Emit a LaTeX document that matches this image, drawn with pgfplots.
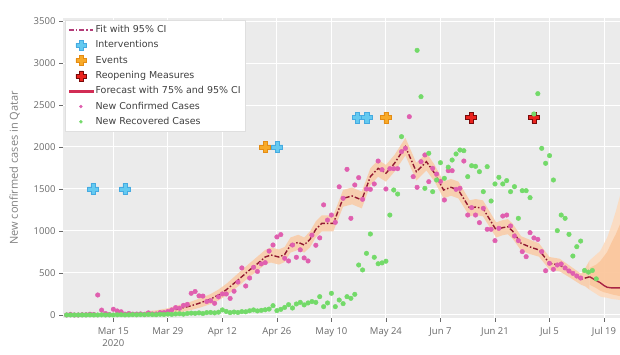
\documentclass[border=0pt]{standalone}
\usepackage{fontspec}
\setmainfont{Open Sans}
\newfontfamily\legfont{DejaVu Sans}
\usepackage{pgfplots}
\usepackage{pgfplotstable}
\pgfplotsset{compat=1.18}
\usepgfplotslibrary{fillbetween}

\definecolor{bg}{RGB}{235,235,235}
\definecolor{pinkdot}{RGB}{224,95,175}
\definecolor{greendot}{RGB}{115,218,105}
\definecolor{fitcol}{RGB}{145,25,50}
\definecolor{fitleg}{RGB}{180,60,120}
\definecolor{forecastred}{RGB}{210,45,85}
\definecolor{band}{RGB}{251,200,160}
\definecolor{bandA}{RGB}{253,218,188}
\definecolor{bandB}{RGB}{251,196,152}
\definecolor{ivfill}{RGB}{100,202,240}
\definecolor{ivdraw}{RGB}{70,170,225}
\definecolor{evfill}{RGB}{248,170,40}
\definecolor{evdraw}{RGB}{228,140,20}
\definecolor{rofill}{RGB}{235,35,30}
\definecolor{rodraw}{RGB}{120,10,10}
\definecolor{txt}{RGB}{105,105,105}

\pgfplotsset{
  legfitline/.style={legend image code/.code={\draw[color=fitleg, line width=1.4pt, dash pattern=on 5pt off 2pt on 1.5pt off 2pt] (0pt,0pt) -- (24pt,0pt);}},
  legfcline/.style={legend image code/.code={\fill[fill=forecastred] (0pt,-0.75pt) rectangle (24pt,0.75pt);}},
  legmark/.style={legend image code/.code={\draw[##1] plot coordinates {(12pt,0pt)};}},
}

\pgfdeclareplotmark{fatcross}{%
 \pgfpathmoveto{\pgfqpoint{-0.38\pgfplotmarksize}{\pgfplotmarksize}}%
 \pgfpathlineto{\pgfqpoint{0.38\pgfplotmarksize}{\pgfplotmarksize}}%
 \pgfpathlineto{\pgfqpoint{0.38\pgfplotmarksize}{0.38\pgfplotmarksize}}%
 \pgfpathlineto{\pgfqpoint{\pgfplotmarksize}{0.38\pgfplotmarksize}}%
 \pgfpathlineto{\pgfqpoint{\pgfplotmarksize}{-0.38\pgfplotmarksize}}%
 \pgfpathlineto{\pgfqpoint{0.38\pgfplotmarksize}{-0.38\pgfplotmarksize}}%
 \pgfpathlineto{\pgfqpoint{0.38\pgfplotmarksize}{-\pgfplotmarksize}}%
 \pgfpathlineto{\pgfqpoint{-0.38\pgfplotmarksize}{-\pgfplotmarksize}}%
 \pgfpathlineto{\pgfqpoint{-0.38\pgfplotmarksize}{-0.38\pgfplotmarksize}}%
 \pgfpathlineto{\pgfqpoint{-\pgfplotmarksize}{-0.38\pgfplotmarksize}}%
 \pgfpathlineto{\pgfqpoint{-\pgfplotmarksize}{0.38\pgfplotmarksize}}%
 \pgfpathlineto{\pgfqpoint{-0.38\pgfplotmarksize}{0.38\pgfplotmarksize}}%
 \pgfpathclose
 \pgfusepathqfillstroke}

% day 0 = Mar 15 2020
\pgfplotstableread{
x y
-13 0
-12 0
-11 7
-10 0
-9 0
-8 3
-7 3
-6 9
-5 6
-4 238
-3 58
-2 17
-1 5
0 68
1 48
2 38
3 10
4 18
5 10
6 11
7 13
8 7
9 25
10 12
11 12
12 28
13 28
14 41
15 60
16 88
17 80
18 114
19 126
20 258
21 279
22 228
23 225
24 160
25 170
26 139
27 216
28 250
29 250
30 197
31 283
32 392
33 560
34 345
35 440
36 567
37 518
38 608
39 623
40 761
41 833
42 929
43 957
44 675
45 643
46 833
47 687
48 776
49 679
50 643
51 951
52 830
53 918
54 1311
55 1130
56 1190
57 1103
58 1526
59 1389
60 1734
61 1151
62 1548
63 1635
64 1377
65 1500
66 1496
67 1560
68 1833
69 1730
70 1500
71 1742
72 1742
73 1742
74 1944
75 1984
76 2361
77 1647
78 1520
79 1825
80 1905
81 1587
82 1746
83 1678
84 1590
85 1369
86 1718
87 1718
88 1496
89 1508
90 1833
91 1190
92 1278
93 1190
94 1099
95 1270
96 1020
97 1020
98 885
99 1032
100 1178
101 1190
102 1060
103 940
104 885
105 754
106 694
107 980
108 917
109 900
110 754
111 527
112 615
113 544
114 595
115 607
116 560
117 524
118 496
119 464
120 440
}\conftab

\pgfplotstableread{
x y
-13 0
-12 0
-11 0
-10 0
-9 0
-8 0
-7 0
-6 1
-5 0
-4 0
-3 2
-2 0
-1 1
0 0
1 2
2 3
3 1
4 2
5 4
6 2
7 5
8 3
9 6
10 5
11 3
12 8
13 6
14 10
15 7
16 12
17 15
18 10
19 18
20 22
21 20
22 25
23 18
24 28
25 30
26 25
27 33
28 60
29 42
30 28
31 35
32 30
33 40
34 38
35 50
36 60
37 48
38 55
39 62
40 70
41 111
42 52
43 67
44 90
45 123
46 83
47 131
48 150
49 120
50 143
51 160
52 150
53 218
54 99
55 143
56 258
57 99
58 178
59 135
60 218
61 198
62 246
63 595
64 536
65 734
66 964
67 687
68 610
69 620
70 640
71 1190
72 1488
73 1440
74 2123
78 3151
79 2599
80 1508
81 1925
82 1468
83 1607
84 1813
85 1627
86 1760
87 1845
88 1917
89 1964
90 1956
91 1647
92 1777
93 1770
94 1706
95 1468
96 1766
97 1357
98 1560
99 1639
100 1560
101 1600
102 1468
103 1528
104 1151
105 1480
106 1480
107 1397
108 2393
109 2635
110 1984
111 1806
112 1897
113 1607
114 1004
115 1190
116 1151
117 960
118 702
119 813
120 880
121 530
122 510
123 530
124 430
}\rectab

\pgfplotstableread{
x fit lo hi
8 10 -15 40
11 20 -15 55
14 40 0 80
17 75 30 120
20 110 60 160
22 139 84 194
25 190 130 250
27 238 173 303
29 300 230 370
31 377 302 452
33 456 376 536
35 536 456 616
37 610 525 695
39 690 605 775
40.5 714 624 804
42.5 690 600 780
44 720 630 810
45.5 833 743 923
47.5 865 775 955
49 833 743 923
50.5 900 805 995
52 1020 925 1115
53.5 1091 996 1186
56.5 1091 996 1186
59 1389 1289 1489
61.3 1417 1317 1517
63.8 1369 1269 1469
66 1647 1547 1747
68 1746 1646 1846
70 1687 1587 1787
72.2 1806 1706 1906
75 2004 1899 2109
77.8 1706 1601 1811
80.4 1825 1720 1930
82.5 1687 1587 1787
84.8 1488 1388 1588
86.7 1520 1420 1620
88.6 1488 1388 1588
91.5 1270 1175 1365
93 1285 1190 1380
94.9 1270 1175 1365
98.3 1012 922 1102
100 1040 950 1130
101.3 1051 961 1141
102.5 1000 910 1090
104.7 853 768 938
106.8 813 728 898
109.3 774 694 854
112 615 540 690
114.6 595 520 670
117.2 516 446 586
120.1 425 360 490
121.2 440 340 560
122.3 455 300 650
}\fittab

\pgfplotstableread{
x fc lo95 hi95 lo75 hi75
122.3 455 300 650 360 560
124 410 250 720 320 600
125 385 220 760 290 640
126 350 210 850 270 700
126.8 330 205 920 262 750
128 322 190 1080 245 870
129 322 185 1230 235 960
130.1 322 178 1420 225 1080
}\fctab

\begin{document}
\begin{tikzpicture}
\begin{axis}[
  at={(63pt,37pt)}, anchor=south west,
  scale only axis, width=557pt, height=300pt,
  xmin=-12.92, xmax=130.1, ymin=-36, ymax=3536,
  axis background/.style={fill=bg},
  axis line style={draw=none},
  grid=major, major grid style={white, line width=1pt},
  xtick={0,14,...,126},
  xticklabels={{Mar 15\\2020},Mar 29,Apr 12,Apr 26,May 10,May 24,Jun 7,Jun 21,Jul 5,Jul 19},
  ytick={0,500,...,3500},
  tick pos=left, tick align=outside, major tick length=4pt,
  tick style={txt, line width=0.7pt},
  xticklabel style={align=center, font=\fontsize{9.5}{12}\selectfont, text=txt, yshift=-2pt},
  yticklabel style={font=\fontsize{9.5}{12}\selectfont, text=txt},
  /pgf/number format/1000 sep={}, /pgf/number format/assume math mode=true,
  ylabel={New confirmed cases in Qatar},
  ylabel style={at={(axis description cs:-0.087,0.5)}, anchor=center, font=\fontsize{11}{13}\selectfont, text=gray},
  legend cell align=left,
  legend style={at={(axis description cs:0,1)}, anchor=north west, xshift=2pt, yshift=-2pt,
    draw=gray!25, fill=white, font=\legfont\fontsize{9.5}{11}\selectfont, text=black!75,
    nodes={inner sep=2pt, text height=7.5pt, text depth=2.2pt}, row sep=1.6pt, inner sep=3pt},
]
\addlegendimage{legfitline}
\addlegendentry{Fit with 95\% CI}
\addlegendimage{only marks, mark=fatcross, mark size=5pt, fill=ivfill, draw=ivdraw, line width=0.6pt, legmark}
\addlegendentry{Interventions}
\addlegendimage{only marks, mark=fatcross, mark size=5pt, fill=evfill, draw=evdraw, line width=0.6pt, legmark}
\addlegendentry{Events}
\addlegendimage{only marks, mark=fatcross, mark size=5pt, fill=rofill, draw=rodraw, line width=0.6pt, legmark}
\addlegendentry{Reopening Measures}
\addlegendimage{forecastred, legfcline}
\addlegendentry{Forecast with 75\% and 95\% CI}
\addlegendimage{only marks, mark=*, mark size=1.5pt, pinkdot, legmark}
\addlegendentry{New Confirmed Cases}
\addlegendimage{only marks, mark=*, mark size=1.5pt, greendot, legmark}
\addlegendentry{New Recovered Cases}

% bands
\addplot[draw=none, name path=fhi, forget plot] table[x=x, y=hi] {\fittab};
\addplot[draw=none, name path=flo, forget plot] table[x=x, y=lo] {\fittab};
\addplot[fill=band, fill opacity=0.8, draw=none, forget plot] fill between[of=fhi and flo];
\addplot[draw=none, name path=ahi, forget plot] table[x=x, y=hi95] {\fctab};
\addplot[draw=none, name path=alo, forget plot] table[x=x, y=lo95] {\fctab};
\addplot[fill=bandA, fill opacity=0.85, draw=none, forget plot] fill between[of=ahi and alo];
\addplot[draw=none, name path=bhi, forget plot] table[x=x, y=hi75] {\fctab};
\addplot[draw=none, name path=blo, forget plot] table[x=x, y=lo75] {\fctab};
\addplot[fill=bandB, fill opacity=0.8, draw=none, forget plot] fill between[of=bhi and blo];

% confirmed
\addplot[only marks, mark=*, mark size=2.3pt, pinkdot, forget plot]
  table[x=x, y=y] {\conftab};
% fit and forecast lines
\addplot[fitcol, line width=1.4pt, dash pattern=on 5pt off 2pt on 1.5pt off 2pt, forget plot]
  table[x=x, y=fit] {\fittab};
\addplot[forecastred!80!black, line width=1.4pt, forget plot] table[x=x, y=fc] {\fctab};

% interventions, events, reopening
\addplot[only marks, mark=fatcross, mark size=5.5pt, mark options={fill=ivfill, draw=ivdraw, line width=0.6pt}, forget plot]
  coordinates {(-5.2,1500) (3,1500) (42.1,2000) (62.7,2350) (65.1,2350)};
\addplot[only marks, mark=fatcross, mark size=5.5pt, mark options={fill=evfill, draw=evdraw, line width=0.6pt}, forget plot]
  coordinates {(39,2000) (70,2350)};
\addplot[only marks, mark=fatcross, mark size=5.5pt, mark options={fill=rofill, draw=rodraw, line width=0.6pt}, forget plot]
  coordinates {(91.9,2350) (108,2350)};

% recovered
\addplot[only marks, mark=*, mark size=2.3pt, greendot, forget plot]
  table[x=x, y=y] {\rectab};
\end{axis}
\pgfresetboundingbox
\path[use as bounding box] (0,0) rectangle (620pt,355pt);
\end{tikzpicture}
\end{document}
